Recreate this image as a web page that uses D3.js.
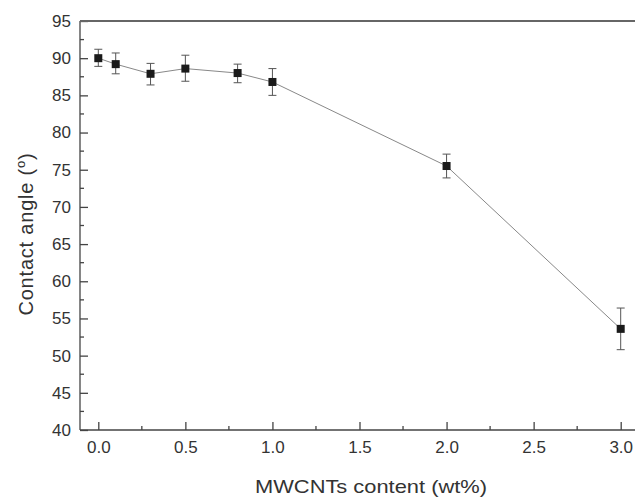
<!DOCTYPE html>
<html>
<head>
<meta charset="utf-8">
<script src="https://cdn.jsdelivr.net/npm/d3@7"></script>
<style>
  body { margin: 0; background: #fff; }
  svg text { font-family: "Liberation Sans", Arial, sans-serif; fill: #333; }
</style>
</head>
<body>
<div id="chart"></div>
<script>
// MWCNTs content (wt%) vs contact angle
const content = [0.0, 0.1, 0.3, 0.5, 0.8, 1.0, 2.0, 3.0];
const angle   = [90.0, 89.2, 87.9, 88.6, 88.0, 86.8, 75.5, 53.6];
const errLow  = [88.9, 87.9, 86.4, 86.9, 86.7, 85.0, 73.9, 50.8];
const errHigh = [91.2, 90.7, 89.3, 90.4, 89.2, 88.6, 77.1, 56.4];
const xTicks = [0, 0.5, 1.0, 1.5, 2.0, 2.5, 3.0];
const yTicks = [40, 45, 50, 55, 60, 65, 70, 75, 80, 85, 90, 95];

const W = 635, H = 498;
const plotLeft = 80, plotTop = 21, plotBottom = 430;

const svg = d3.select('#chart').append('svg')
  .attr('width', W)
  .attr('height', H);

const x = d3.scaleLinear().domain([0, 3]).range([98.3, 620.7]);
const y = d3.scaleLinear().domain([40, 95]).range([plotBottom, plotTop]);

// minor ticks
const xMinor = d3.range(0.25, 3, 0.5);
const yMinor = d3.range(42.5, 95, 5);

const xAxis = d3.axisBottom(x)
  .tickValues(xTicks)
  .tickSize(-8)
  .tickPadding(11)
  .tickFormat(d3.format('.1f'));

const gx = svg.append('g')
  .attr('transform', `translate(0,${plotBottom})`)
  .call(xAxis);
gx.select('.domain').attr('d', `M${plotLeft},0H${W}`);

gx.selectAll('.minor').data(xMinor).enter().append('line')
  .attr('x1', d => x(d)).attr('x2', d => x(d))
  .attr('y1', 0).attr('y2', -4);

const yAxis = d3.axisLeft(y)
  .tickValues(yTicks)
  .tickSize(-8)
  .tickPadding(9);

const gy = svg.append('g')
  .attr('transform', `translate(${plotLeft},0)`)
  .call(yAxis);
gy.select('.domain').attr('d', `M0,${plotTop}V${plotBottom}`);

gy.selectAll('.minor').data(yMinor).enter().append('line')
  .attr('x1', 0).attr('x2', 4)
  .attr('y1', d => y(d)).attr('y2', d => y(d));

svg.selectAll('.domain, .tick line, line')
  .attr('stroke', '#444')
  .attr('stroke-width', 1.3);

svg.selectAll('.tick text')
  .style('font-size', '17px')
  .style('fill', '#333');

// top frame line
svg.append('line')
  .attr('x1', plotLeft).attr('x2', W)
  .attr('y1', plotTop).attr('y2', plotTop)
  .attr('stroke', '#666')
  .attr('stroke-width', 2);

// connecting line
const line = d3.line()
  .x((d, i) => x(content[i]))
  .y(d => y(d));

svg.append('path')
  .datum(angle)
  .attr('d', line)
  .attr('fill', 'none')
  .attr('stroke', '#888')
  .attr('stroke-width', 1);

// error bars
const eb = svg.append('g').attr('stroke', '#555').attr('stroke-width', 1);
content.forEach((c, i) => {
  const cx = x(c);
  eb.append('line')
    .attr('x1', cx).attr('x2', cx)
    .attr('y1', y(errLow[i])).attr('y2', y(errHigh[i]));
  [errLow[i], errHigh[i]].forEach(v => {
    eb.append('line')
      .attr('x1', cx - 4).attr('x2', cx + 4)
      .attr('y1', y(v)).attr('y2', y(v));
  });
});

// markers
const s = 8;
svg.selectAll('rect.pt')
  .data(angle)
  .enter().append('rect')
  .attr('class', 'pt')
  .attr('x', (d, i) => x(content[i]) - s / 2)
  .attr('y', d => y(d) - s / 2)
  .attr('width', s)
  .attr('height', s)
  .attr('fill', '#1a1a1a');

// axis titles
svg.append('text')
  .attr('x', 255)
  .attr('y', 493)
  .attr('textLength', 232)
  .attr('lengthAdjust', 'spacingAndGlyphs')
  .style('font-size', '19px')
  .text('MWCNTs content (wt%)');

const yl = svg.append('text')
  .attr('transform', 'translate(33,234) rotate(-90)')
  .attr('text-anchor', 'middle')
  .style('font-size', '20px')
  .style('letter-spacing', '0.8px');
yl.append('tspan').text('Contact angle (');
yl.append('tspan').attr('dy', -8).style('font-size', '13px').text('o');
yl.append('tspan').attr('dy', 8).text(')');
</script>
</body>
</html>
